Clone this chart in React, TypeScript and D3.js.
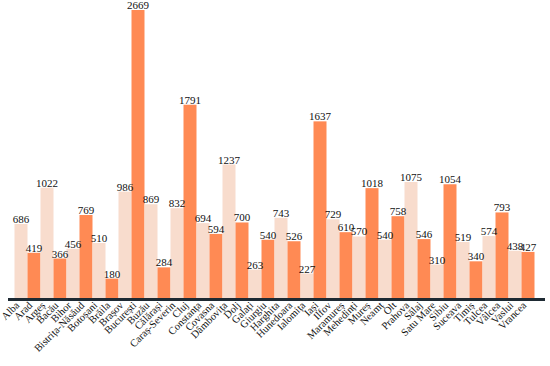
import React, { useRef, useEffect } from "react"
import * as d3 from "d3"

// County names (x axis) and their values
const counties: string[] = [
  "Alba", "Arad", "Argeș", "Bacău", "Bihor", "Bistrița-Năsăud", "Botoșani", "Brăila",
  "Brașov", "București", "Buzău", "Călărași", "Caraș-Severin", "Cluj", "Constanța",
  "Covasna", "Dâmbovița", "Dolj", "Galați", "Giurgiu", "Harghita", "Hunedoara",
  "Ialomița", "Iași", "Ilfov", "Maramureș", "Mehedinți", "Mureș", "Neamț", "Olt",
  "Prahova", "Sălaj", "Satu Mare", "Sibiu", "Suceava", "Timiș", "Tulcea", "Vâlcea",
  "Vaslui", "Vrancea",
]

const values: number[] = [
  686, 419, 1022, 366, 456, 769, 510, 180,
  986, 2669, 869, 284, 832, 1791, 694,
  594, 1237, 700, 263, 540, 743, 526,
  227, 1637, 729, 610, 570, 1018, 540, 758,
  1075, 546, 310, 1054, 519, 340, 574, 793,
  438, 427,
]

const colors: string[] = ["#f8dccd", "#ff8a54"]

const width = 550
const height = 366

const App: React.FC = () => {
  const svgRef = useRef<SVGSVGElement | null>(null)

  useEffect(() => {
    document.body.style.margin = "0"
    const svg = d3.select(svgRef.current)
    svg.selectAll("*").remove()

    const baseY = 298
    const data = counties.map((name, i) => ({ name, value: values[i], i }))

    const x = d3.scaleBand<string>()
      .domain(counties)
      .range([14.5, 534.5])
      .padding(0)

    const y = d3.scaleLinear()
      .domain([0, 2669])
      .range([baseY, 10])

    // BARS
    svg.append("g")
      .selectAll("rect")
      .data(data)
      .enter()
      .append("rect")
      .attr("x", d => x(d.name) as number)
      .attr("width", x.bandwidth())
      .attr("y", d => y(d.value))
      .attr("height", d => baseY - y(d.value))
      .attr("fill", d => colors[d.i % 2])

    // VALUE LABELS
    svg.append("g")
      .selectAll("text")
      .data(data)
      .enter()
      .append("text")
      .attr("x", d => (x(d.name) as number) + x.bandwidth() / 2)
      .attr("y", d => y(d.value) - 1)
      .attr("text-anchor", "middle")
      .attr("font-family", "'Liberation Serif', serif")
      .attr("font-size", 11)
      .attr("fill", "#111")
      .text(d => d.value)

    // AXIS LINE
    svg.append("line")
      .attr("x1", 8)
      .attr("x2", 545)
      .attr("y1", baseY + 1.5)
      .attr("y2", baseY + 1.5)
      .attr("stroke", "#1e2a33")
      .attr("stroke-width", 3)

    // CATEGORY LABELS
    svg.append("g")
      .selectAll("text")
      .data(data)
      .enter()
      .append("text")
      .attr("transform", d => `translate(${(x(d.name) as number) + x.bandwidth() / 2 - 1},${baseY + 8}) rotate(-45)`)
      .attr("text-anchor", "end")
      .attr("font-family", "'Liberation Serif', serif")
      .attr("font-size", 10.5)
      .attr("fill", "#111")
      .text(d => d.name)
  }, [])

  return (
    <svg ref={svgRef} width={width} height={height} style={{ display: "block", background: "#fff" }}></svg>
  )
}

export default App
